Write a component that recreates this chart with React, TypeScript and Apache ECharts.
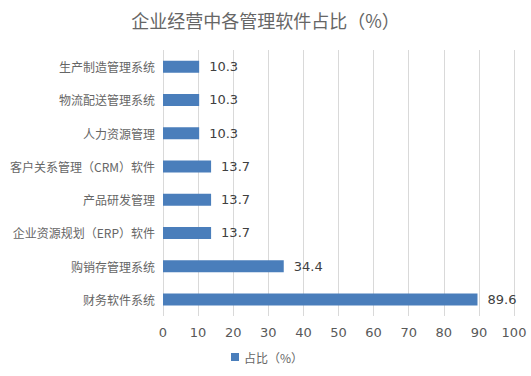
import React, { useEffect, useRef } from "react";
import * as echarts from "echarts";

const categories = [
  "财务软件系统",
  "购销存管理系统",
  "企业资源规划（ERP）软件",
  "产品研发管理",
  "客户关系管理（CRM）软件",
  "人力资源管理",
  "物流配送管理系统",
  "生产制造管理系统",
];
const values = [89.6, 34.4, 13.7, 13.7, 13.7, 10.3, 10.3, 10.3];
const seriesName = "占比（%）";
const titleText = "企业经营中各管理软件占比（%）";

export default function App() {
  const ref = useRef<HTMLDivElement>(null);
  useEffect(() => {
    if (!ref.current) return;
    const chart = echarts.init(ref.current, null, { renderer: "svg" });
    const font = "'Noto Sans CJK SC', 'DejaVu Sans', sans-serif";
    chart.setOption({
      animation: false,
      title: {
        text: titleText,
        left: "center",
        top: 6,
        textStyle: { fontSize: 18, fontWeight: "normal", color: "#666666", fontFamily: font },
      },
      legend: {
        bottom: 8,
        left: 226,
        itemWidth: 8,
        itemHeight: 8,
        itemGap: 4,
        icon: "rect",
        textStyle: { fontSize: 12, color: "#666666", fontFamily: font },
        data: [seriesName],
      },
      grid: { left: 163, right: 17, top: 50, bottom: 60 },
      xAxis: {
        type: "value",
        min: 0,
        max: 100,
        interval: 10,
        axisLine: { show: false },
        axisTick: { show: false },
        axisLabel: { color: "#595959", fontSize: 13, margin: 10, fontFamily: "'DejaVu Sans', sans-serif" },
        splitLine: { lineStyle: { color: "#d9d9d9", width: 1 } },
      },
      yAxis: {
        type: "category",
        data: categories,
        axisLine: { show: false },
        axisTick: { show: false },
        axisLabel: { color: "#666666", fontSize: 12, margin: 8, fontFamily: font },
      },
      series: [
        {
          name: seriesName,
          type: "bar",
          data: values,
          barWidth: 12,
          itemStyle: { color: "#4a7ebb" },
          label: {
            show: true,
            position: "right",
            distance: 10,
            color: "#404040",
            fontSize: 13,
            fontFamily: "'DejaVu Sans', sans-serif",
          },
        },
      ],
    });
    return () => chart.dispose();
  }, []);
  return <div ref={ref} style={{ width: 531, height: 376, position: "absolute", left: 0, top: 0 }} />;
}
